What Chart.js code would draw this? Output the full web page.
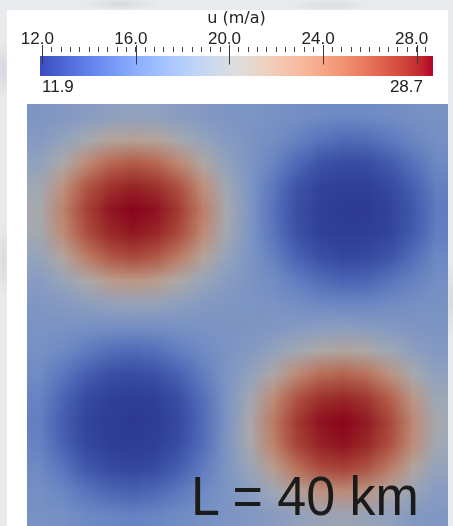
<!DOCTYPE html>
<html>
<head>
<meta charset="utf-8">
<script src="https://cdn.jsdelivr.net/npm/chart.js@4.4.1/dist/chart.umd.min.js"></script>
<style>
  html, body { margin: 0; padding: 0; }
  body {
    width: 453px; height: 526px; overflow: hidden; position: relative;
    background:
      radial-gradient(ellipse 10px 30px at 3px 70px, #d5d8dc, transparent),
      radial-gradient(ellipse 8px 40px at 4px 260px, #d9dcdf, transparent),
      radial-gradient(ellipse 40px 6px at 120px 4px, #d7dadd, transparent),
      radial-gradient(ellipse 40px 6px at 330px 5px, #dadde0, transparent),
      radial-gradient(ellipse 6px 40px at 451px 300px, #d8dbde, transparent),
      #e8eaed;
  }
  #panel { position: absolute; left: 7px; top: 10px; width: 441px; height: 516px; background: #ffffff; }
  #barCanvas { position: absolute; left: 0; top: 0; }
  #fieldCanvas { position: absolute; left: 27px; top: 104px; }
  #lengthLabel {
    position: absolute; left: 191px; top: 471px;
    font-family: "Liberation Sans", Arial, sans-serif; font-size: 52px; line-height: 52px;
    color: #1b1b1b; white-space: nowrap;
    transform: scaleY(1.075); transform-origin: 0 44px;
  }
</style>
</head>
<body>
<div id="panel"></div>
<canvas id="barCanvas" width="453" height="100"></canvas>
<canvas id="fieldCanvas" width="421" height="422"></canvas>
<div id="lengthLabel">L = 40 km</div>
<script>
// ---- data -------------------------------------------------------------
const fieldTitle = 'u (m/a)';
const domainKm = 40;
const valueMin = 11.9;
const valueMax = 28.7;
const majorTicks = [12.0, 16.0, 20.0, 24.0, 28.0];
const minorStep = 0.4;

// Surface velocity u (m/a) on an 18 x 18 grid, rows from the top edge down.
const uGrid = [
  [17.2, 17.5, 17.8, 18.2, 18.4, 18.3, 17.9, 17.5, 17.2, 17.1, 16.9, 16.7, 16.4, 16.2, 16.3, 16.5, 16.8, 16.9],
  [17.6, 18.5, 19.8, 21.0, 21.5, 21.1, 19.9, 18.6, 17.7, 17.1, 16.6, 15.8, 14.9, 14.4, 14.5, 15.2, 16.1, 16.7],
  [18.4, 20.4, 23.2, 25.2, 25.9, 25.3, 23.4, 20.7, 18.5, 17.2, 15.9, 14.3, 13.1, 12.7, 12.8, 13.5, 14.8, 16.2],
  [19.5, 22.7, 26.0, 27.5, 28.0, 27.6, 26.2, 23.0, 19.5, 17.2, 15.1, 13.2, 12.3, 12.1, 12.1, 12.6, 13.8, 15.6],
  [20.0, 23.7, 26.9, 28.3, 28.7, 28.4, 27.1, 24.0, 20.0, 17.3, 14.8, 12.9, 12.1, 11.9, 11.9, 12.3, 13.4, 15.3],
  [19.7, 23.1, 26.3, 27.8, 28.3, 27.9, 26.5, 23.3, 19.7, 17.2, 15.0, 13.1, 12.2, 12.0, 12.1, 12.4, 13.6, 15.5],
  [18.7, 21.0, 24.0, 26.0, 26.6, 26.0, 24.1, 21.2, 18.7, 17.2, 15.7, 14.0, 12.9, 12.5, 12.6, 13.2, 14.6, 16.1],
  [17.8, 18.8, 20.4, 21.9, 22.5, 21.9, 20.5, 18.9, 17.8, 17.1, 16.5, 15.5, 14.5, 14.0, 14.1, 14.9, 15.9, 16.6],
  [17.3, 17.6, 18.0, 18.5, 18.8, 18.6, 18.1, 17.6, 17.3, 17.1, 17.0, 16.7, 16.4, 16.2, 16.2, 16.5, 16.8, 16.9],
  [17.0, 17.0, 16.8, 16.7, 16.6, 16.7, 16.9, 17.0, 17.1, 17.2, 17.4, 17.7, 18.0, 18.1, 17.9, 17.6, 17.3, 17.1],
  [16.8, 16.3, 15.4, 14.6, 14.3, 14.7, 15.6, 16.4, 17.1, 17.6, 18.5, 19.7, 20.6, 21.1, 20.6, 19.4, 18.3, 17.5],
  [16.4, 15.1, 13.7, 12.9, 12.7, 13.0, 13.9, 15.5, 17.1, 18.5, 20.6, 23.3, 25.1, 25.6, 24.8, 22.7, 20.1, 18.3],
  [15.9, 14.1, 12.7, 12.2, 12.0, 12.2, 12.9, 14.7, 17.1, 19.6, 23.1, 26.2, 27.6, 27.9, 27.4, 25.6, 22.2, 19.2],
  [15.6, 13.7, 12.4, 12.0, 11.9, 12.0, 12.7, 14.4, 17.1, 20.3, 24.3, 27.2, 28.4, 28.7, 28.2, 26.7, 23.4, 19.8],
  [15.8, 14.0, 12.6, 12.1, 12.0, 12.2, 12.9, 14.6, 17.2, 20.0, 23.8, 26.8, 28.0, 28.4, 27.8, 26.2, 22.9, 19.5],
  [16.3, 15.0, 13.5, 12.7, 12.5, 12.8, 13.8, 15.4, 17.2, 19.0, 21.6, 24.6, 26.4, 26.8, 26.1, 24.0, 20.9, 18.6],
  [16.7, 16.1, 15.1, 14.3, 14.0, 14.4, 15.3, 16.4, 17.1, 17.9, 19.2, 21.0, 22.5, 22.9, 22.2, 20.5, 18.9, 17.8],
  [16.9, 16.8, 16.4, 16.1, 15.9, 16.1, 16.5, 16.8, 17.1, 17.3, 17.8, 18.3, 18.9, 19.1, 18.8, 18.2, 17.6, 17.3]
];

// ---- colour map (diverging cool to warm) ---------------------------------
const coolWarmStops = [
  [59, 76, 192], [68, 90, 204], [77, 104, 215], [87, 117, 225], [98, 130, 234],
  [108, 142, 241], [119, 154, 247], [130, 165, 251], [141, 176, 254], [152, 185, 255],
  [163, 194, 255], [174, 201, 253], [184, 208, 249], [194, 213, 244], [204, 217, 238],
  [213, 219, 230], [221, 221, 221], [229, 216, 209], [236, 211, 197], [241, 204, 185],
  [245, 196, 173], [247, 187, 160], [247, 177, 148], [247, 166, 135], [244, 154, 123],
  [241, 141, 111], [236, 127, 99], [229, 112, 88], [222, 96, 77], [213, 80, 66],
  [203, 62, 56], [192, 40, 47], [180, 4, 38]
];
const surfaceShade = 0.77;   // lit surface is a little darker than the legend bar

function coolWarm(v) {
  let t = (v - valueMin) / (valueMax - valueMin);
  t = Math.max(0, Math.min(1, t));
  const p = t * (coolWarmStops.length - 1);
  const i = Math.min(coolWarmStops.length - 2, Math.floor(p));
  const f = p - i;
  const a = coolWarmStops[i], b = coolWarmStops[i + 1];
  return [0, 1, 2].map(k => a[k] + (b[k] - a[k]) * f);
}
function rgb(c, s = 1) {
  return `rgb(${Math.round(c[0] * s)}, ${Math.round(c[1] * s)}, ${Math.round(c[2] * s)})`;
}

// ---- colour bar ----------------------------------------------------------
const minorTicks = [];
for (let v = majorTicks[0]; v <= valueMax + 1e-9; v += minorStep) minorTicks.push(+v.toFixed(1));

const colourbarMarks = {
  id: 'colourbarMarks',
  afterDatasetsDraw(chart) {
    const { ctx, chartArea } = chart;
    const xs = chart.scales.x;
    ctx.save();
    ctx.strokeStyle = '#3a3a3a';
    ctx.lineWidth = 1;
    majorTicks.forEach(v => {
      const px = Math.round(xs.getPixelForValue(v)) + 0.5;
      ctx.beginPath();
      ctx.moveTo(px, chartArea.top - 11);
      ctx.lineTo(px, chartArea.top + 8.5);
      ctx.stroke();
    });
    ctx.fillStyle = '#222222';
    ctx.font = '17px "Liberation Sans", Arial, sans-serif';
    ctx.textBaseline = 'alphabetic';
    ctx.textAlign = 'left';
    ctx.fillText(valueMin.toFixed(1), xs.getPixelForValue(valueMin) + 2, chartArea.bottom + 15.5);
    ctx.textAlign = 'right';
    ctx.fillText(valueMax.toFixed(1), xs.getPixelForValue(valueMax) - 10, chartArea.bottom + 15.5);
    ctx.restore();
  }
};

new Chart(document.getElementById('barCanvas'), {
  type: 'bar',
  data: {
    labels: ['u'],
    datasets: [{
      data: [[valueMin, valueMax]],
      barPercentage: 1,
      categoryPercentage: 1,
      borderWidth: 0,
      backgroundColor: (ctx) => {
        const chart = ctx.chart;
        if (!chart.chartArea) return 'rgba(0,0,0,0)';
        const xs = chart.scales.x;
        const g = chart.ctx.createLinearGradient(xs.getPixelForValue(valueMin), 0, xs.getPixelForValue(valueMax), 0);
        coolWarmStops.forEach((c, k) => g.addColorStop(k / (coolWarmStops.length - 1), rgb(c)));
        return g;
      }
    }]
  },
  options: {
    indexAxis: 'y',
    responsive: false,
    animation: false,
    devicePixelRatio: 1,
    layout: { padding: { top: 11, left: 40, right: 20, bottom: 24 } },
    plugins: { legend: { display: false }, tooltip: { enabled: false } },
    scales: {
      y: { display: false },
      x: {
        type: 'linear',
        position: 'top',
        min: valueMin,
        max: valueMax,
        afterBuildTicks: (s) => { s.ticks = minorTicks.map(v => ({ value: v })); },
        afterFit: (s) => { s.height = 45; },
        border: { display: false },
        grid: {
          drawOnChartArea: false,
          drawTicks: true,
          tickLength: 9,
          tickBorderDash: [5, 20],
          tickColor: '#444444',
          tickWidth: 1,
          color: '#444444'
        },
        ticks: {
          autoSkip: false,
          maxRotation: 0,
          padding: -1,
          labelOffset: -5,
          color: '#222222',
          font: { family: '"Liberation Sans", Arial, sans-serif', size: 17, lineHeight: 1 },
          callback: (v) => majorTicks.some(m => Math.abs(m - v) < 1e-6) ? Number(v).toFixed(1) : ''
        },
        title: {
          display: true,
          text: fieldTitle,
          color: '#222222',
          font: { family: '"DejaVu Sans", sans-serif', size: 16, lineHeight: 1 },
          padding: { top: 0, bottom: 0 }
        }
      }
    }
  },
  plugins: [colourbarMarks]
});

// ---- velocity field ------------------------------------------------------
// One floating bar per grid cell; the canvas is rendered at one device pixel
// per cell and the browser's smooth upscaling blends neighbouring cells.
const nCols = uGrid[0].length;
const nRows = uGrid.length;
const cellKm = domainKm / nCols;
const xCentresKm = uGrid[0].map((_, i) => ((i + 0.5) * cellKm).toFixed(2));
const fieldCanvas = document.getElementById('fieldCanvas');

new Chart(fieldCanvas, {
  type: 'bar',
  data: {
    labels: xCentresKm,
    datasets: uGrid.map((row, j) => {
      const top = domainKm - j * (domainKm / nRows);
      const bottom = domainKm - (j + 1) * (domainKm / nRows);
      return {
        label: 'row ' + j,
        data: row.map(() => [bottom, top]),
        backgroundColor: row.map(v => rgb(coolWarm(v), surfaceShade)),
        borderWidth: 0,
        grouped: false,
        barPercentage: 1,
        categoryPercentage: 1
      };
    })
  },
  options: {
    responsive: false,
    animation: false,
    devicePixelRatio: (nCols + 0.001) / fieldCanvas.width,
    layout: { padding: 0 },
    plugins: { legend: { display: false }, tooltip: { enabled: false } },
    scales: {
      x: { display: false },
      y: { display: false, min: 0, max: domainKm }
    }
  }
});
</script>
</body>
</html>
